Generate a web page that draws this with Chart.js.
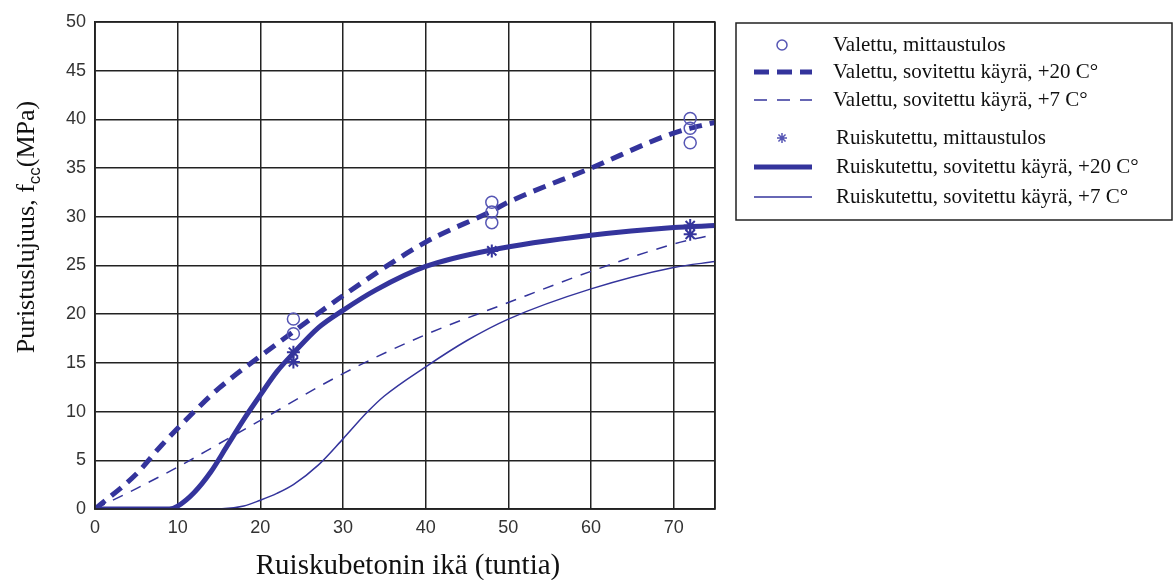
<!DOCTYPE html>
<html>
<head>
<meta charset="utf-8">
<script src="https://cdn.jsdelivr.net/npm/chart.js@4.4.0/dist/chart.umd.min.js"></script>
<style>
  html, body { margin: 0; padding: 0; background: #fff; }
  #kaavio { display: block; }
</style>
</head>
<body>
<canvas id="kaavio" width="1175" height="580"></canvas>
<script>
// sovitetut käyrät, ikä (h) ja lujuus (MPa)
const valettu20Aika = [0, 5, 8, 12, 15, 20, 24, 30, 40, 48, 50, 60, 70, 75];
const valettu20 = [0, 3.6, 6.5, 10, 12.4, 15.7, 18.2, 21.9, 27.4, 30.6, 31.5, 35, 38.6, 39.7];

const valettu7Aika = [0, 5, 10, 15, 20, 30, 40, 50, 60, 70, 75];
const valettu7 = [0, 2.1, 4.3, 6.7, 9.1, 13.9, 17.9, 21.2, 24.4, 27.2, 28.2];

const ruisk20Aika = [0, 9, 10, 12, 14, 16, 18, 20, 22, 24, 27, 30, 34, 40, 48, 60, 70, 75];
const ruisk20 = [0, 0, 0.3, 1.7, 3.8, 6.5, 9.2, 11.7, 14.1, 16, 18.6, 20.4, 22.5, 24.9, 26.6, 28.1, 28.9, 29.1];

const ruisk7Aika = [0, 15, 18, 20, 22, 24, 27, 30, 33, 35, 40, 45, 50, 60, 70, 75];
const ruisk7 = [0, 0, 0.3, 0.9, 1.6, 2.5, 4.5, 7.2, 10, 11.6, 14.6, 17.3, 19.5, 22.6, 24.8, 25.4];

// mittaustulokset
const valettuMitAika = [24, 24, 48, 48, 48, 72, 72, 72];
const valettuMit = [19.5, 18, 31.5, 30.5, 29.4, 40.1, 39.1, 37.6];

const ruiskMitAika = [24, 24, 48, 72, 72];
const ruiskMit = [16.1, 15.1, 26.5, 29.1, 28.2];

const selitteet = [
    'Valettu, mittaustulos',
    'Valettu, sovitettu käyrä, +20 C°',
    'Valettu, sovitettu käyrä, +7 C°',
    'Ruiskutettu, mittaustulos',
    'Ruiskutettu, sovitettu käyrä, +20 C°',
    'Ruiskutettu, sovitettu käyrä, +7 C°'
];

const yTikit = [0, 5, 10, 15, 20, 25, 30, 35, 40, 45, 50];
const xTikit = [0, 10, 20, 30, 40, 50, 60, 70];

const VARI = '#34349c';
const VARI_PISTE = '#5656b4';

function pisteet(x, y) {
    return x.map((v, i) => ({ x: v, y: y[i] }));
}

function kayra(nimi, x, y, leveys, katko) {
    return {
        label: nimi,
        data: pisteet(x, y),
        showLine: true,
        borderColor: VARI,
        borderWidth: leveys,
        borderDash: katko,
        pointRadius: 0,
        cubicInterpolationMode: 'monotone',
        fill: false
    };
}

// akselien otsikot ja selite piirretään itse
const tekstit = {
    id: 'tekstit',
    afterDraw(chart) {
        const ctx = chart.ctx;
        const ala = chart.chartArea;
        ctx.save();

        // kehys
        ctx.strokeStyle = '#222';
        ctx.lineWidth = 1.5;
        ctx.strokeRect(ala.left, ala.top, ala.right - ala.left, ala.bottom - ala.top);

        // x-akselin otsikko
        ctx.fillStyle = '#111';
        ctx.font = '29px "Liberation Serif"';
        ctx.textAlign = 'center';
        ctx.textBaseline = 'middle';
        ctx.fillText('Ruiskubetonin ikä (tuntia)', 408, 566);

        // y-akselin otsikko alaindeksillä
        ctx.translate(27, 227);
        ctx.rotate(-Math.PI / 2);
        ctx.textAlign = 'left';
        const osa1 = 'Puristuslujuus, f';
        const osa3 = '(MPa)';
        ctx.font = '26px "Liberation Serif"';
        const w1 = ctx.measureText(osa1).width;
        const w3 = ctx.measureText(osa3).width;
        ctx.font = '17px "Liberation Sans"';
        const w2 = ctx.measureText('cc').width;
        let x = -(w1 + w2 + w3) / 2;
        ctx.font = '26px "Liberation Serif"';
        ctx.fillText(osa1, x, 0);
        x += w1;
        ctx.font = '17px "Liberation Sans"';
        ctx.fillText('cc', x, 8);
        x += w2;
        ctx.font = '26px "Liberation Serif"';
        ctx.fillText(osa3, x, 0);
        ctx.restore();

        // selite
        ctx.save();
        ctx.strokeStyle = '#222';
        ctx.lineWidth = 1.5;
        ctx.strokeRect(736, 23, 436, 197);
        const rivit = [45, 72, 100, 138, 167, 197];
        const tekstiX = [833, 833, 833, 836, 836, 836];
        ctx.font = '21px "Liberation Serif"';
        ctx.fillStyle = '#111';
        ctx.textAlign = 'left';
        ctx.textBaseline = 'middle';
        chart.data.datasets.forEach((ds, i) => {
            const y = rivit[i];
            ctx.fillText(selitteet[i], tekstiX[i], y);
            if (ds.showLine) {
                ctx.beginPath();
                ctx.strokeStyle = VARI;
                ctx.lineWidth = ds.borderWidth;
                ctx.setLineDash(ds.borderWidth > 3 ? [15, 8] : [13, 10]);
                if (!ds.borderDash) ctx.setLineDash([]);
                ctx.moveTo(754, y);
                ctx.lineTo(812, y);
                ctx.stroke();
                ctx.setLineDash([]);
            } else {
                ctx.strokeStyle = VARI_PISTE;
                ctx.lineWidth = 1.5;
                ctx.beginPath();
                if (ds.pointStyle === 'star') {
                    for (let k = 0; k < 4; k++) {
                        const a = k * Math.PI / 4;
                        ctx.moveTo(782 - 5 * Math.cos(a), y - 5 * Math.sin(a));
                        ctx.lineTo(782 + 5 * Math.cos(a), y + 5 * Math.sin(a));
                    }
                } else {
                    ctx.arc(782, y, 5, 0, Math.PI * 2);
                }
                ctx.stroke();
            }
        });
        ctx.restore();
    }
};

const ctx = document.getElementById('kaavio').getContext('2d');
new Chart(ctx, {
    type: 'scatter',
    data: {
        datasets: [
            {
                label: selitteet[0],
                data: pisteet(valettuMitAika, valettuMit),
                pointStyle: 'circle',
                pointRadius: 6,
                borderColor: VARI_PISTE,
                backgroundColor: 'rgba(0,0,0,0)',
                borderWidth: 1.5
            },
            kayra(selitteet[1], valettu20Aika, valettu20, 5, [13, 8]),
            kayra(selitteet[2], valettu7Aika, valettu7, 1.5, [11, 9]),
            {
                label: selitteet[3],
                data: pisteet(ruiskMitAika, ruiskMit),
                pointStyle: 'star',
                pointRadius: 6.5,
                borderColor: VARI,
                backgroundColor: VARI,
                borderWidth: 2
            },
            kayra(selitteet[4], ruisk20Aika, ruisk20, 5, undefined),
            kayra(selitteet[5], ruisk7Aika, ruisk7, 1.5, undefined)
        ]
    },
    options: {
        responsive: false,
        animation: false,
        layout: { padding: { left: 0, top: 22, right: 460, bottom: 0 } },
        plugins: {
            legend: { display: false },
            tooltip: { enabled: false }
        },
        scales: {
            x: {
                type: 'linear',
                min: 0,
                max: 75,
                afterFit: s => { s.height = 71; },
                afterBuildTicks: s => { s.ticks = xTikit.concat([75]).map(v => ({ value: v })); },
                grid: { color: '#222', lineWidth: 1.5, drawTicks: false },
                border: { color: '#222', width: 1.5 },
                ticks: {
                    autoSkip: false,
                    maxRotation: 0,
                    padding: 8,
                    color: '#333',
                    font: { family: '"Liberation Sans"', size: 18 },
                    callback: v => (xTikit.includes(v) ? v : '')
                }
            },
            y: {
                min: 0,
                max: 50,
                afterFit: s => { s.width = 95; },
                afterBuildTicks: s => { s.ticks = yTikit.map(v => ({ value: v })); },
                grid: { color: '#222', lineWidth: 1.5, drawTicks: false },
                border: { color: '#222', width: 1.5 },
                ticks: {
                    padding: 9,
                    color: '#333',
                    font: { family: '"Liberation Sans"', size: 18 }
                }
            }
        }
    },
    plugins: [tekstit]
});
</script>
</body>
</html>
